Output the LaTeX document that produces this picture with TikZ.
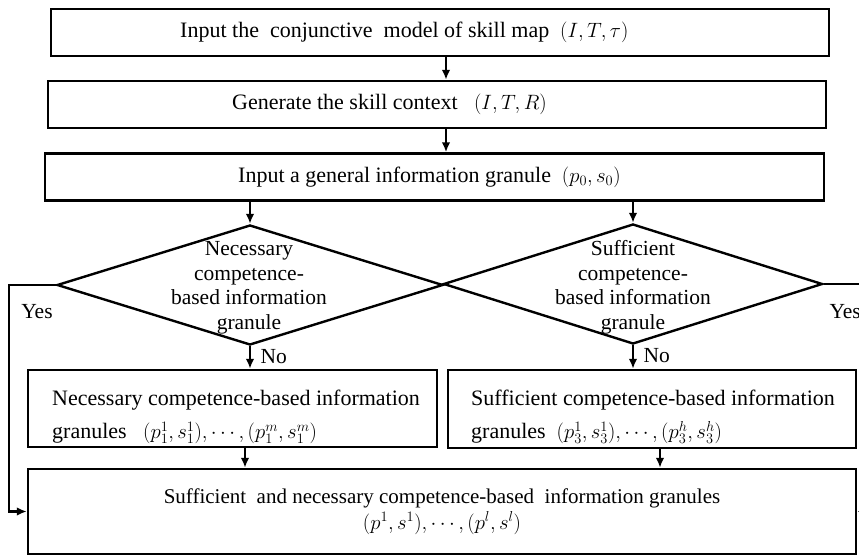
\documentclass[tikz,border=0pt]{standalone}
\usepackage{fontspec}
\setmainfont{Liberation Serif}
\usepackage{xcolor}
\usetikzlibrary{arrows.meta, positioning, calc, shapes.geometric}
\tikzset{
  >={Latex[length=10,width=8.5]},  % arrow tips
  % boxes and decisions
  stepbox/.style={draw,line width=2.4pt,rectangle,inner sep=0},
  step text/.style={inner sep=0,anchor=west,align=left,font=\fontsize{22}{33}\selectfont},
  decide/.style={draw,line width=2.4pt,diamond,inner sep=0},
  decide text/.style={align=center,font=\fontsize{21.5}{24.5}\selectfont},
  % connectors
  connect/.style={->,line width=2.4pt},
  yesno/.style={font=\fontsize{21.5}{24}\selectfont}
}
\begin{document}
\begin{tikzpicture}[x=1pt,y=-1pt]
    \useasboundingbox (0,0) rectangle (859,556);
    \clip (0,0) rectangle (859,556);
    \node[stepbox,minimum width=778,minimum height=47] (model) at (440,32.5) {};
    \node[step text] (modeltext) at (180,32.5)
      {Input the\ \ conjunctive\ \ model of skill map\ \ $(I,T,\tau)$};
    \node[stepbox,minimum width=778,minimum height=47] (context) at (437,104.5) {};
    \node[step text] (contexttext) at (232,104.5)
      {Generate the skill context\ \ \ $(I,T,R)$};
    \node[stepbox,minimum width=779,minimum height=47] (general) at (434.5,177) {};
    \node[step text] (generaltext) at (238,177)
      {Input a general information granule\ \ $(p_0,s_0)$};
    \coordinate (col) at (446,0);
    \draw[connect] (model.south -| col) -- (context.north -| col);
    \draw[connect] (context.south -| col) -- (general.north -| col);
    \node[decide,minimum width=386,minimum height=120] (nec) at (250,285) {};
    \node[decide text] (nectext) at (249,288) {Necessary\\competence-\\based information\\granule};
    \node[decide,minimum width=379,minimum height=120] (suf) at (633,284) {};
    \node[decide text] (suftext) at (633,287) {Sufficient\\competence-\\based information\\granule};
    \draw[connect] (general.south -| nec.north) -- (nec.north);
    \draw[connect] (general.south -| suf.north) -- (suf.north);
    \node[stepbox,minimum width=409,minimum height=77] (necbox) at (232.5,408.5) {};
    \node[step text] (necboxtext) at (52,417)
      {Necessary competence-based information\\granules\ \ \ $(p_1^1,s_1^1),\cdots,(p_1^m,s_1^m)$};
    \node[stepbox,minimum width=408,minimum height=78] (sufbox) at (652,409) {};
    \node[step text] (sufboxtext) at (471,417)
      {Sufficient competence-based information\\granules\ \ $(p_3^1,s_3^1),\cdots,(p_3^h,s_3^h)$};
    \draw[connect] (nec.south) -- (necbox.north -| nec.south)
      node[yesno,right,pos=0.45,xshift=6] (no1) {No};
    \draw[connect] (suf.south) -- (sufbox.north -| suf.south)
      node[yesno,right,pos=0.45,xshift=6] (no2) {No};
    \node[stepbox,minimum width=828,minimum height=85,align=center,
      font=\fontsize{21}{26}\selectfont] (final) at (442,511.5)
      {Sufficient\ \ and necessary competence-based\ \ information granules\\$(p^1,s^1),\cdots,(p^l,s^l)$};
    \draw[connect] (necbox.south -| 245,0) -- (final.north -| 245,0);
    \draw[connect] (sufbox.south -| 660,0) -- (final.north -| 660,0);
    \draw[connect] (nec.west) -- ++(-47,0) |- (final.west);
    \draw[connect] (suf.east) -- ++(50,0) |- (final.east);
    \node[yesno] (yes1) at (37,312) {Yes};
    \node[yesno,anchor=west] (yes2) at (826,312) {Yes};
\end{tikzpicture}
\end{document}
